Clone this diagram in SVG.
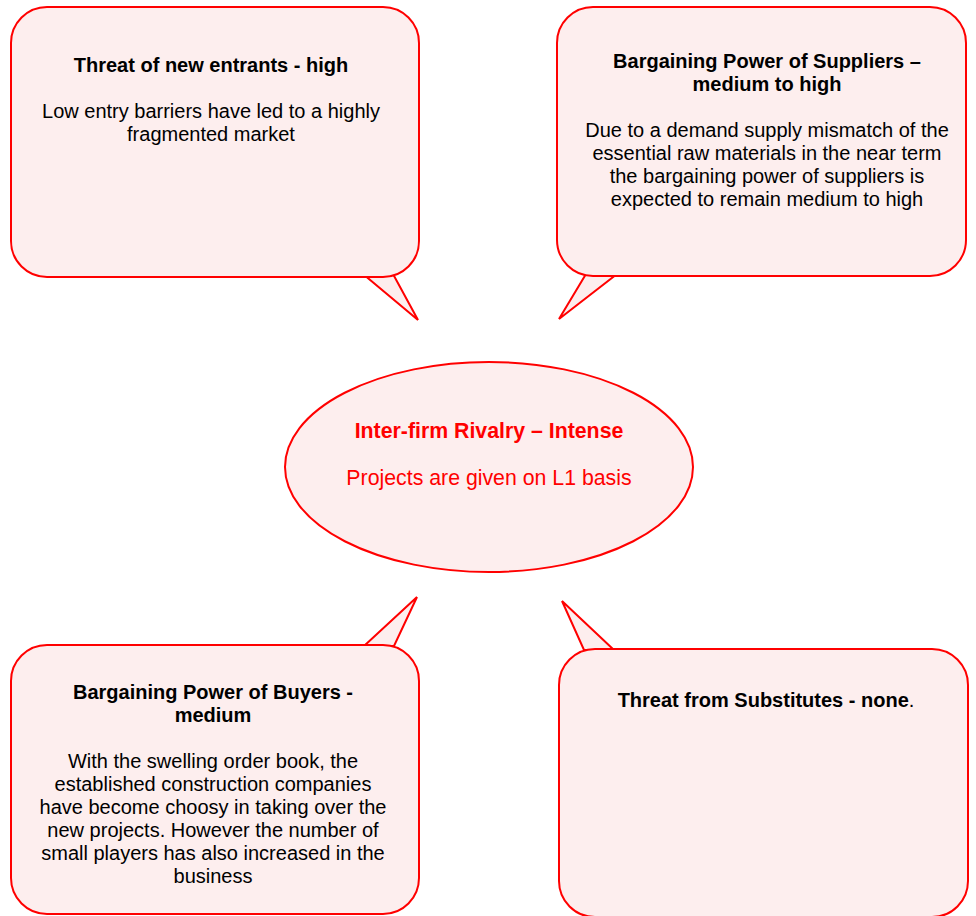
<svg xmlns="http://www.w3.org/2000/svg" width="976" height="916" viewBox="0 0 976 916">
<style>
.shape{fill:#FDEEEE;stroke:#FF0000;stroke-width:2;stroke-linejoin:miter}
text{font-family:"Liberation Sans",Arial,sans-serif;font-size:20px;text-anchor:middle;fill:#000}
.b{font-weight:bold}
.r{fill:#FF0000;font-size:21.3px}
</style>
<rect width="976" height="916" fill="#fff"/>
<g id="connectors">
<polygon class="shape" points="363,274 393,274 418,320"/>
<polygon class="shape" points="586,274 617,274 559,319"/>
<polygon class="shape" points="364,646 394,646 417,597"/>
<polygon class="shape" points="584,650 614,650 562,601"/>
</g>
<g id="new-entrants">
<rect class="shape" x="11" y="7" width="408" height="270" rx="36" ry="36"/>
<text class="b" x="211" y="72">Threat of new entrants - high</text>
<text x="211" y="118">Low entry barriers have led to a highly</text>
<text x="211" y="141">fragmented market</text>
</g>
<g id="suppliers">
<rect class="shape" x="557" y="7" width="409" height="269" rx="36" ry="36"/>
<text class="b" x="767" y="68">Bargaining Power of Suppliers –</text>
<text class="b" x="767" y="91">medium to high</text>
<text x="767" y="137">Due to a demand supply mismatch of the</text>
<text x="767" y="160">essential raw materials in the near term</text>
<text x="767" y="183">the bargaining power of suppliers is</text>
<text x="767" y="206">expected to remain medium to high</text>
</g>
<g id="rivalry">
<ellipse class="shape" cx="489" cy="467" rx="204" ry="105"/>
<text class="b r" x="489" y="438">Inter-firm Rivalry – Intense</text>
<text class="r" x="489" y="485">Projects are given on L1 basis</text>
</g>
<g id="buyers">
<rect class="shape" x="11" y="645" width="408" height="269" rx="36" ry="36"/>
<text class="b" x="213" y="699">Bargaining Power of Buyers -</text>
<text class="b" x="213" y="722">medium</text>
<text x="213" y="768">With the swelling order book, the</text>
<text x="213" y="791">established construction companies</text>
<text x="213" y="814">have become choosy in taking over the</text>
<text x="213" y="837">new projects. However the number of</text>
<text x="213" y="860">small players has also increased in the</text>
<text x="213" y="883">business</text>
</g>
<g id="substitutes">
<rect class="shape" x="559" y="649" width="409" height="268" rx="36" ry="36"/>
<text x="766" y="707"><tspan class="b">Threat from Substitutes - none</tspan>.</text>
</g>
</svg>
